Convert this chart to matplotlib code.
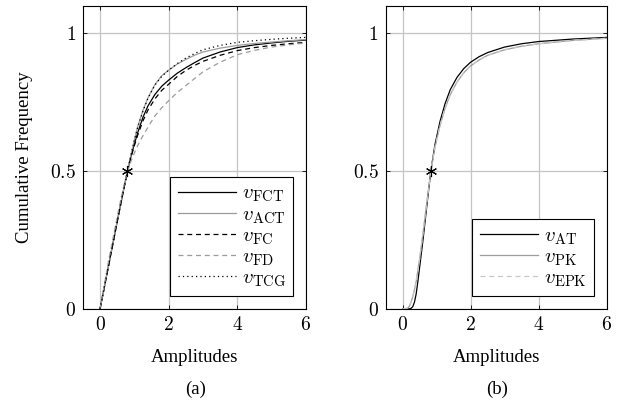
import matplotlib
matplotlib.use("Agg")
import matplotlib.pyplot as plt
from matplotlib.ticker import FuncFormatter

plt.rcParams['font.family'] = ['Liberation Serif', 'DejaVu Serif']
plt.rcParams['mathtext.fontset'] = 'cm'

# panel (a) data
x_a = [0, 0.1, 0.25, 0.4, 0.55, 0.7, 0.8, 0.9, 1.0, 1.1, 1.25, 1.4, 1.6, 1.8, 2.0,
       2.25, 2.5, 2.75, 3.0, 3.5, 4.0, 4.5, 5.0, 5.5, 6.0]
v_fct = [0, .063, .158, .253, .348, .44, .50, .552, .598, .64, .695, .737, .778, .808, .83,
         .855, .875, .893, .91, .932, .948, .958, .965, .971, .975]
v_act = [0, .063, .158, .253, .348, .44, .50, .558, .613, .662, .72, .767, .814, .846, .866,
         .888, .905, .92, .932, .946, .956, .963, .968, .973, .977]
v_fc = [0, .063, .158, .253, .348, .44, .50, .549, .592, .631, .682, .722, .762, .793, .815,
        .843, .865, .883, .898, .92, .937, .948, .956, .962, .967]
v_fd = [0, .07, .175, .27, .365, .45, .50, .535, .565, .593, .628, .66, .70, .73, .755,
        .785, .81, .835, .86, .895, .922, .938, .95, .958, .965]
v_tcg = [0, .063, .158, .253, .348, .44, .50, .557, .611, .66, .717, .765, .812, .844, .866,
         .89, .91, .926, .94, .956, .967, .973, .978, .982, .985]

# panel (b) data
x_b = [0, 0.15, 0.2, 0.25, 0.3, 0.35, 0.4, 0.45, 0.5, 0.6, 0.7, 0.83, 0.95, 1.1, 1.25,
       1.4, 1.6, 1.8, 2.0, 2.25, 2.5, 3.0, 3.5, 4.0, 5.0, 6.0]
v_at = [0, 0, 0, .002, .008, .025, .055, .10, .15, .25, .36, .50, .595, .68, .745,
        .795, .84, .872, .895, .915, .93, .95, .962, .97, .979, .985]
v_pk = [0, .002, .01, .025, .045, .07, .10, .14, .18, .275, .375, .50, .585, .665, .728,
        .777, .823, .857, .882, .903, .92, .94, .953, .962, .974, .982]
v_epk = [0, .002, .01, .025, .045, .07, .10, .14, .18, .275, .375, .50, .585, .665, .728,
         .777, .823, .857, .882, .903, .92, .94, .953, .962, .974, .982]

median_a = (0.8, 0.5)
median_b = (0.83, 0.5)

xticks = [0, 2, 4, 6]
yticks = [0, 0.5, 1]

gray = '#9c9c9c'
lw = 0.9

fig = plt.figure(figsize=(6.28, 4.08), dpi=100)
ax1 = fig.add_axes([0.132, 0.243, 0.355, 0.743])
ax2 = fig.add_axes([0.614, 0.243, 0.352, 0.743])

fmt = FuncFormatter(lambda v, p: f'${v:g}$')

for ax in (ax1, ax2):
    ax.set_xlim(-0.5, 6)
    ax.set_ylim(0, 1.1)
    ax.set_xticks(xticks)
    ax.set_yticks(yticks)
    ax.xaxis.set_major_formatter(fmt)
    ax.yaxis.set_major_formatter(fmt)
    ax.grid(True, color='#c4c4c4', lw=0.9)
    ax.set_axisbelow(True)
    ax.tick_params(direction='in', length=3, width=0.6, labelsize=14, top=True, right=True, pad=5)
    for s in ax.spines.values():
        s.set_linewidth(0.8)
    ax.set_xlabel('Amplitudes', fontsize=13.5, labelpad=11)

ax1.plot(x_a, v_fct, color='black', lw=lw, label=r'$v_{\mathrm{FCT}}$')
ax1.plot(x_a, v_act, color=gray, lw=lw, label=r'$v_{\mathrm{ACT}}$')
ax1.plot(x_a, v_fc, color='black', lw=lw, ls=(0, (4, 3)), label=r'$v_{\mathrm{FC}}$')
ax1.plot(x_a, v_fd, color=gray, lw=lw, ls=(0, (4, 3)), label=r'$v_{\mathrm{FD}}$')
ax1.plot(x_a, v_tcg, color='black', lw=lw, ls=(0, (1, 2.5)), label=r'$v_{\mathrm{TCG}}$')
ax1.plot([median_a[0]], [median_a[1]], color='black', marker=(6, 2, 0), ms=8, mew=0.8, ls='none')
ax1.set_ylabel('Cumulative Frequency', fontsize=13.5, labelpad=12)

ax2.plot(x_b, v_at, color='black', lw=lw, label=r'$v_{\mathrm{AT}}$')
ax2.plot(x_b, v_pk, color=gray, lw=lw, label=r'$v_{\mathrm{PK}}$')
ax2.plot(x_b, v_epk, color='#c8c8c8', lw=lw, ls=(0, (4, 3)), label=r'$v_{\mathrm{EPK}}$')
ax2.plot([median_b[0]], [median_b[1]], color='black', marker=(6, 2, 0), ms=8, mew=0.8, ls='none')

for ax in (ax1, ax2):
    leg = ax.legend(loc='lower right', fontsize=15, fancybox=False, framealpha=1,
                    edgecolor='black', borderpad=0.35, labelspacing=0.05,
                    handlelength=2.8, handletextpad=0.3, borderaxespad=0.6)
    leg.get_frame().set_linewidth(0.8)

fig.text(0.312, 0.046, '(a)', ha='center', va='center', fontsize=13.5)
fig.text(0.792, 0.046, '(b)', ha='center', va='center', fontsize=13.5)

fig.savefig('out.png', dpi=100)
